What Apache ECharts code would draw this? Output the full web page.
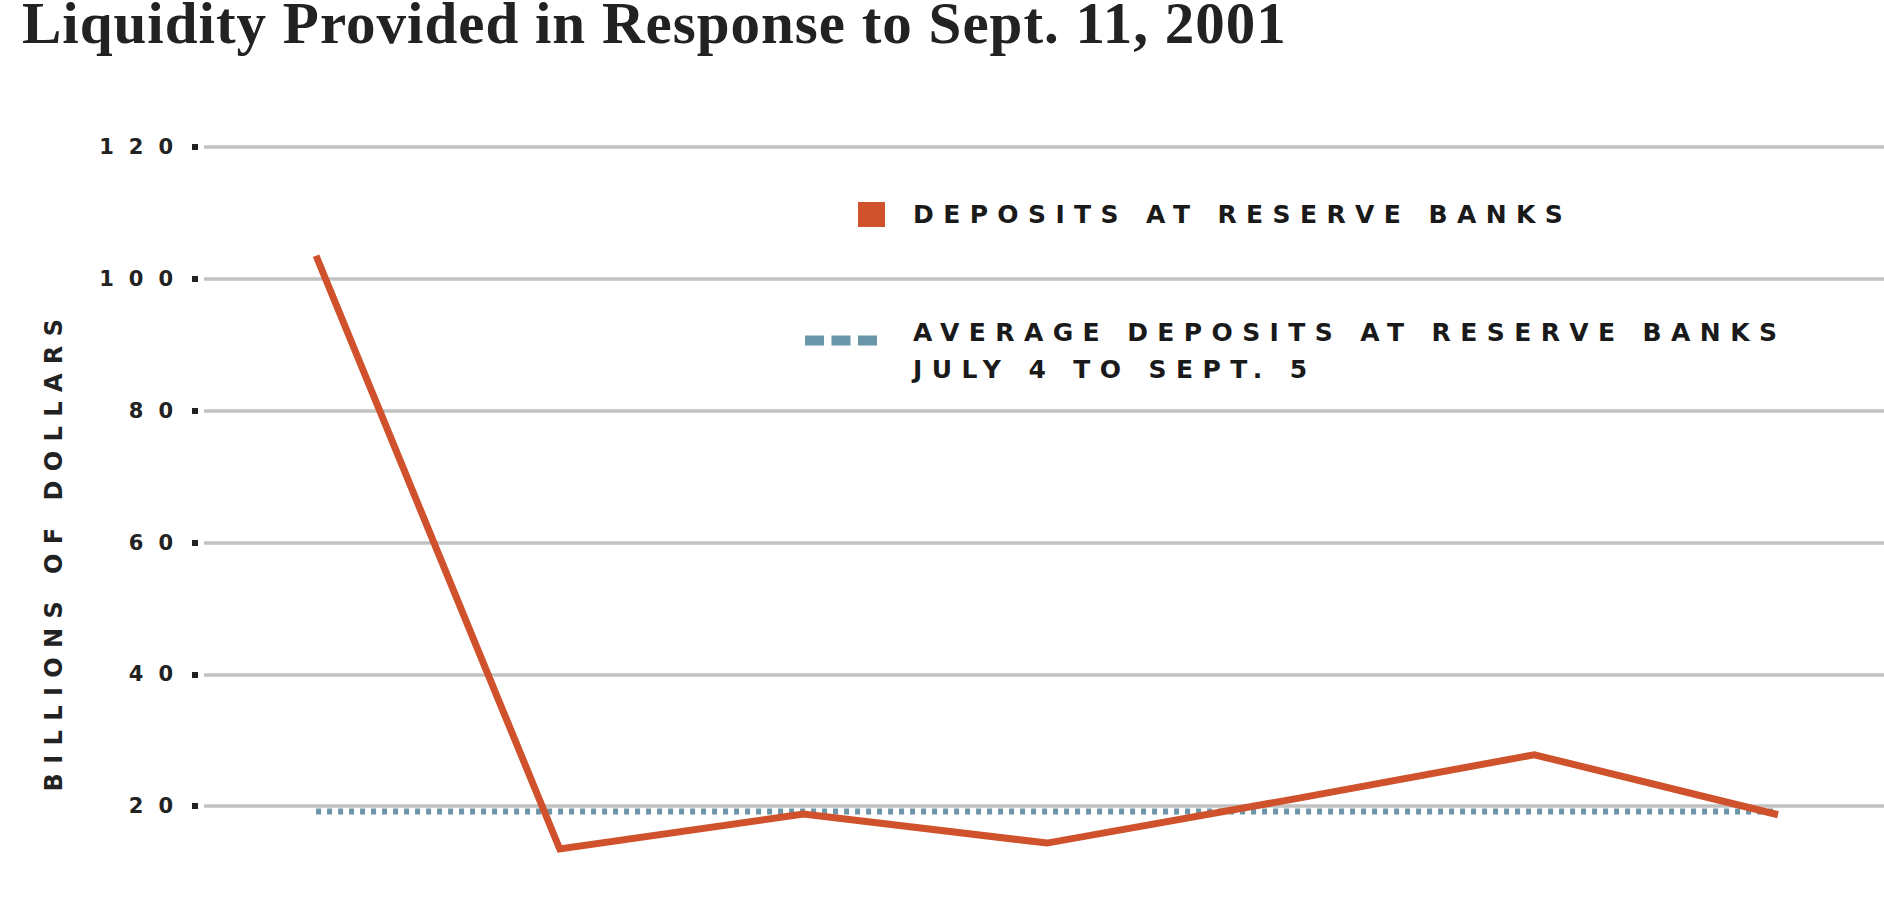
<!DOCTYPE html>
<html><head><meta charset="utf-8">
<script src="https://cdn.jsdelivr.net/npm/echarts@6/dist/echarts.min.js"></script>
<style>
html,body{margin:0;padding:0;background:#fff;overflow:hidden;}
#chart{width:1884px;height:923px;}
#chart text[style*="DejaVu"]{letter-spacing:9.4px;}
#chart text[style*="DejaVu"][style*="21px"]{letter-spacing:15px;}
#chart text[style*="Liberation"]{letter-spacing:1px;}
</style></head><body><div id="chart"></div>
<script>
const titleText = 'Liquidity Provided in Response to Sept. 11, 2001';
const weeks = ['1', '2', '3', '4', '5', '6', '7'];
const deposits = [103.5, 13.5, 18.8, 14.4, 21.0, 27.8, 18.7];
const averageDeposits = [19.2, 19.2, 19.2, 19.2, 19.2, 19.2, 19.2];
const yTicks = [0, 20, 40, 60, 80, 100, 120];
const depositsName = 'DEPOSITS AT RESERVE BANKS';
const averageName = 'AVERAGE DEPOSITS AT RESERVE BANKS\nJULY 4 TO SEPT. 5';
const yAxisName = 'BILLIONS OF DOLLARS';

const yMin = yTicks[0], yMax = yTicks[yTicks.length - 1], yStep = yTicks[1] - yTicks[0];
const chart = echarts.init(document.getElementById('chart'), null, {renderer: 'svg'});
const option = {
  backgroundColor: '#fff',
  animation: false,
  title: {
    text: titleText, left: 22, top: 0, padding: 0,
    textStyle: {fontFamily: 'Liberation Serif', fontWeight: 'bold', fontSize: 59, lineHeight: 46, color: '#222'}
  },
  legend: [
    {
      data: [depositsName], left: 858, top: 202, padding: 0, orient: 'vertical', selectedMode: false,
      icon: 'path://M0,0H27V25H0ZM50,25', itemWidth: 50, itemHeight: 25, symbolKeepAspect: false,
      itemStyle: {borderWidth: 0},
      textStyle: {fontFamily: 'DejaVu Sans', fontWeight: 'bold', fontSize: 25, lineHeight: 25, color: '#1a1a1a'}
    },
    {
      data: [averageName], left: 805, top: 314, padding: 0, orient: 'vertical', selectedMode: false,
      icon: 'path://M0,0H19V10H0ZM26.5,0H45.5V10H26.5ZM53,0H72V10H53ZM103,31', itemWidth: 103, itemHeight: 31, symbolKeepAspect: false,
      itemStyle: {borderWidth: 0},
      textStyle: {fontFamily: 'DejaVu Sans', fontWeight: 'bold', fontSize: 25, lineHeight: 37, color: '#1a1a1a'}
    }
  ],
  grid: {left: 204, right: 0, top: 147, bottom: -15, outerBoundsMode: 'none', containLabel: false},
  xAxis: {type: 'value', min: -0.46, max: 6.435, show: false},
  yAxis: [
    {
      type: 'value', min: yMin, max: yMax, interval: yStep, position: 'left',
      axisLine: {show: false}, axisTick: {show: false},
      splitLine: {show: true, lineStyle: {color: '#c2c2c2', width: 3.5}},
      axisLabel: {margin: 16, showMinLabel: false, fontFamily: 'DejaVu Sans', fontWeight: 'bold', fontSize: 21, color: '#222'},
      name: yAxisName, nameLocation: 'middle', nameRotate: 90, nameGap: 138,
      nameTextStyle: {fontFamily: 'DejaVu Sans', fontWeight: 'bold', fontSize: 24, color: '#222', padding: [0, 16, 0, 0]}
    },
    {
      type: 'value', min: yMin, max: yMax, interval: yStep, position: 'left', offset: 6,
      axisLine: {show: false},
      axisTick: {show: true, length: 6, lineStyle: {width: 6, color: '#222'}},
      axisLabel: {show: false}, splitLine: {show: false}
    }
  ],
  series: [
    {
      type: 'line', name: averageName, z: 2, silent: true,
      data: weeks.map((w, i) => [i, averageDeposits[i]]),
      symbol: 'none', color: '#6b95a8',
      lineStyle: {color: '#6b95a8', width: 6, type: [5, 6], cap: 'butt'}
    },
    {
      type: 'line', name: depositsName, z: 3, silent: true,
      data: weeks.map((w, i) => [i, deposits[i]]),
      symbol: 'none', color: '#d0522c',
      lineStyle: {color: '#d0522c', width: 7, join: 'miter'}
    }
  ]
};
chart.setOption(option);
</script></body></html>
